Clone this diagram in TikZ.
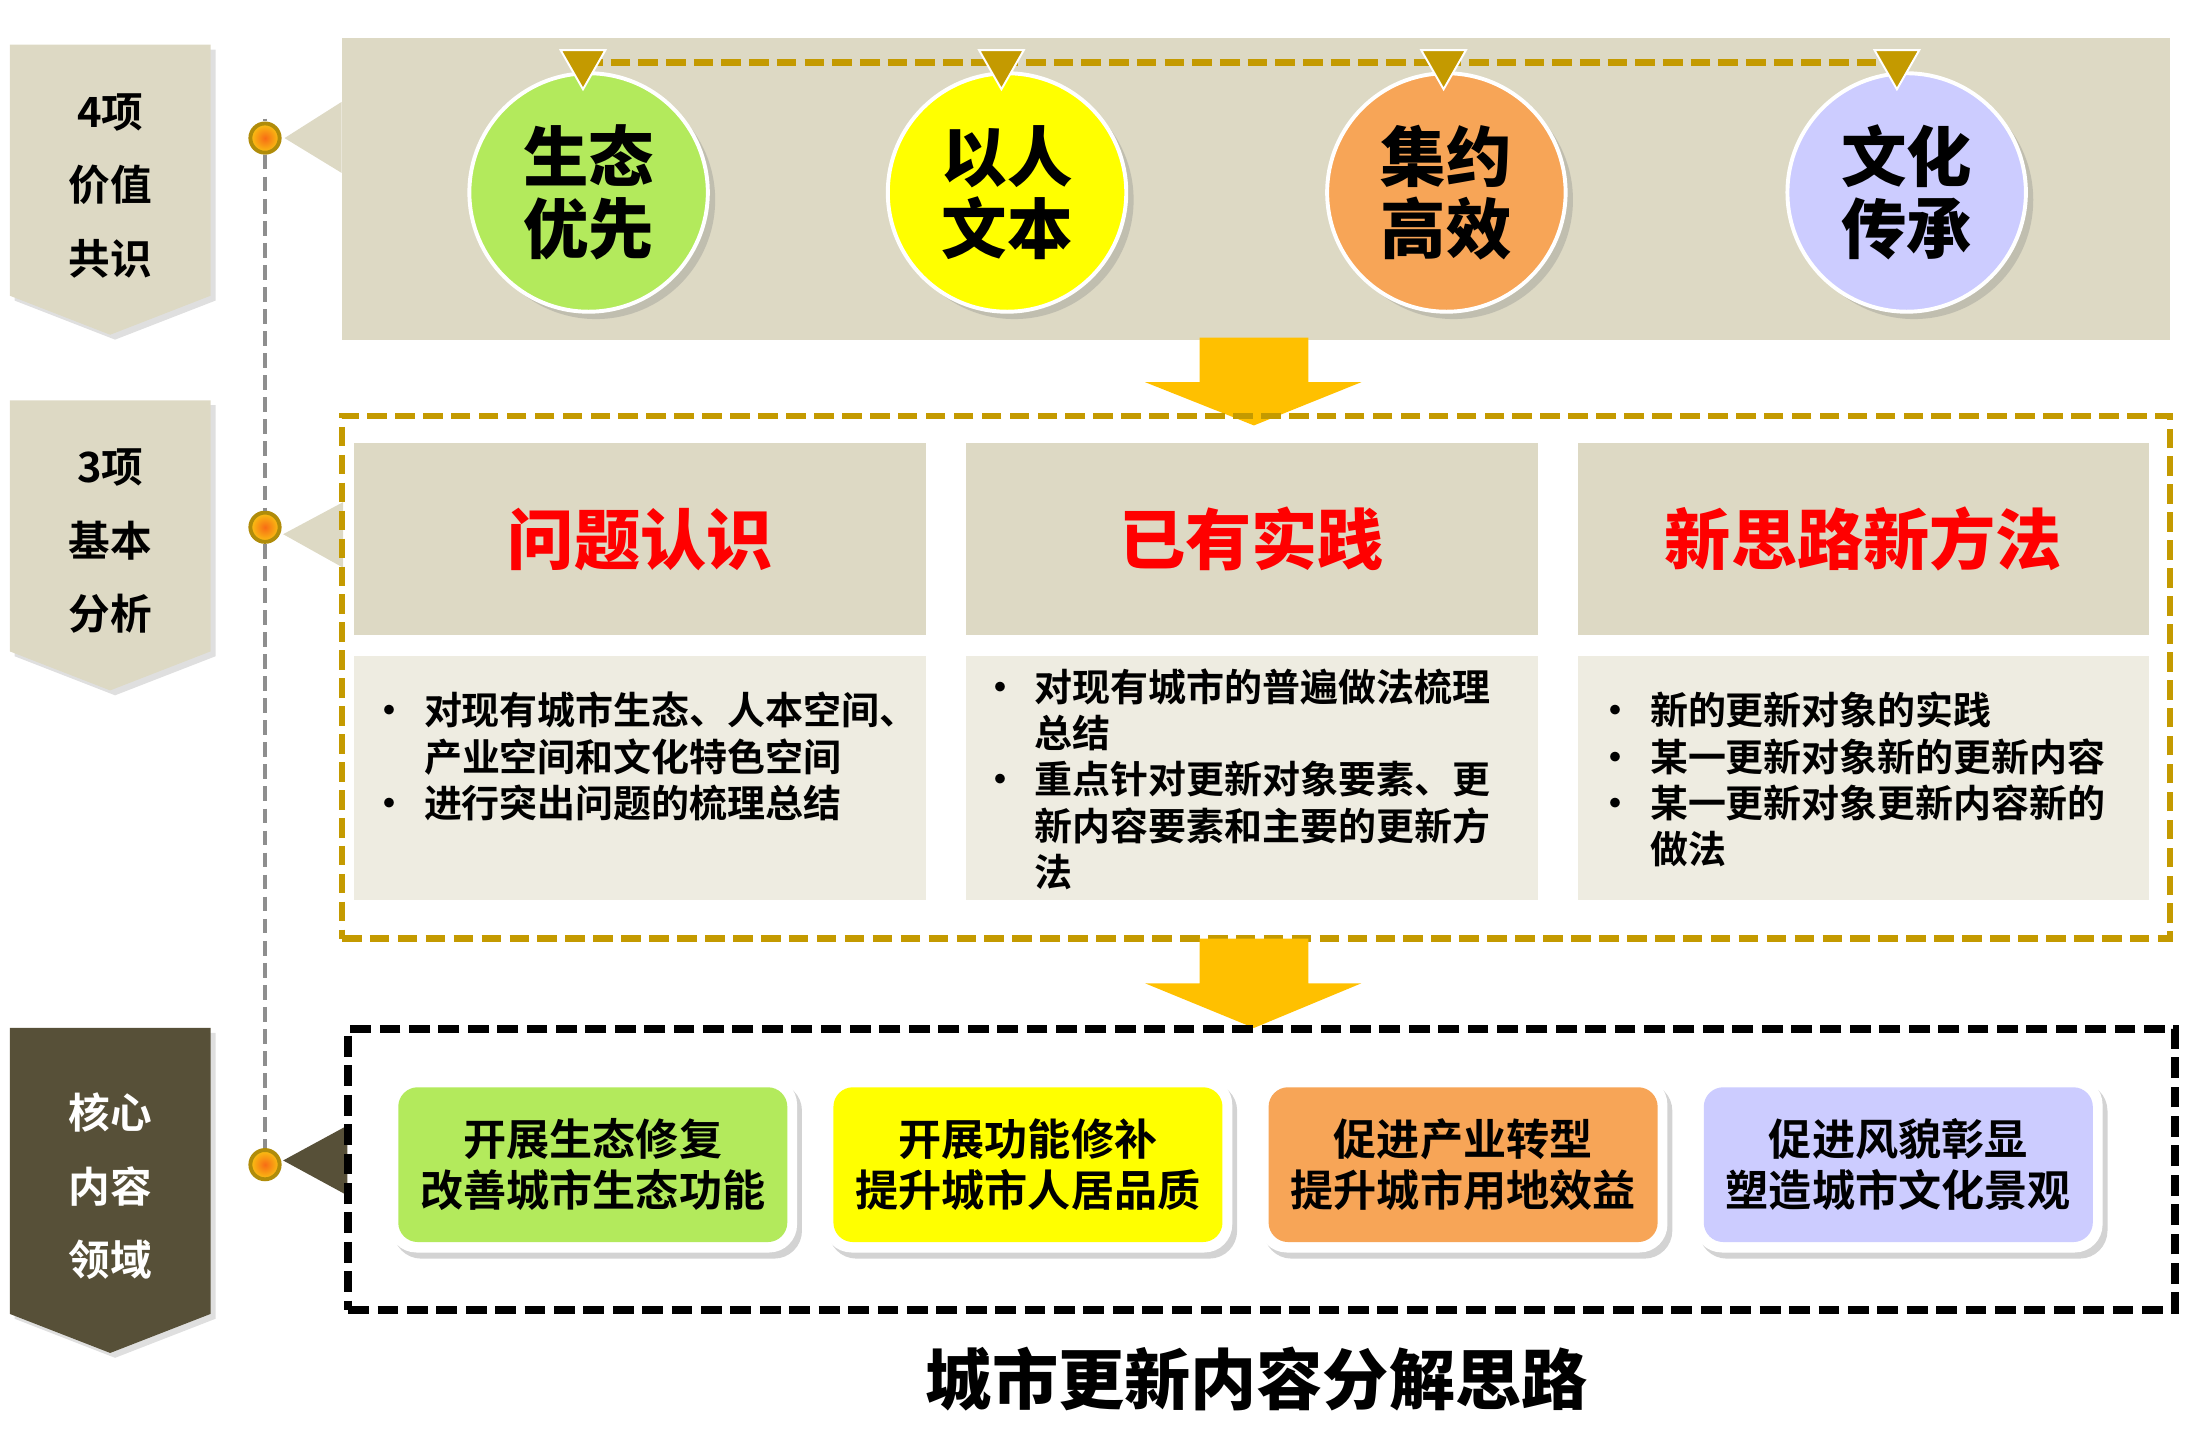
\documentclass[tikz,border=0pt]{standalone}
\usepackage{fontspec}
\setmainfont{Noto Sans CJK SC Bold}
\newfontfamily\heavyfont{Noto Sans CJK SC Black}
\usetikzlibrary{positioning,shadows}

\definecolor{bandbeige}{HTML}{DDD9C4}
\definecolor{bodybeige}{HTML}{EEECE1}
\definecolor{darkolive}{HTML}{575038}
\definecolor{goldline}{HTML}{C49A00}
\definecolor{arrowgold}{HTML}{FFC000}
\definecolor{ecogreen}{HTML}{B3EA5C}
\definecolor{humanyellow}{HTML}{FFFF00}
\definecolor{landorange}{HTML}{F7A557}
\definecolor{culturelilac}{HTML}{CCCCFF}
\definecolor{dotorange}{HTML}{F59A1E}
\definecolor{dotrim}{HTML}{B08C0A}
\definecolor{headred}{HTML}{FF0000}
\definecolor{linegray}{HTML}{8E8E8E}

\begin{document}
\begin{tikzpicture}[x=0.02cm, y=-0.02cm]
    \tikzstyle{tagtext}=[align=center, font=\fontsize{17pt}{30pt}\selectfont]
    \tikzstyle{valuecircle}=[circle, draw=white, line width=1.6pt, minimum size=3.42cm, inner sep=0pt, align=center, drop shadow={shadow xshift=3pt, shadow yshift=-3pt, opacity=0.3}, font=\heavyfont\fontsize{26.7pt}{29.6pt}\selectfont]
    \tikzstyle{headbox}=[rectangle, fill=bandbeige, minimum width=8.2cm, minimum height=2.76cm, inner sep=0pt, text=headred, font=\heavyfont\fontsize{27pt}{30pt}\selectfont]
    \tikzstyle{bodybox}=[rectangle, fill=bodybeige, minimum width=8.2cm, minimum height=3.5cm, inner sep=0pt]
    \tikzstyle{bodytext}=[anchor=west, inner sep=0pt, font=\fontsize{15.5pt}{18.6pt}\selectfont]
    \tikzstyle{taskframe}=[rectangle, rounded corners=0.4cm, fill=white, minimum width=5.86cm, minimum height=2.52cm, drop shadow={shadow xshift=2pt, shadow yshift=-2.5pt, opacity=0.35}]
    \tikzstyle{taskbox}=[rectangle, rounded corners=0.28cm, minimum width=5.58cm, minimum height=2.22cm, align=center, font=\fontsize{17.6pt}{20.6pt}\selectfont]
    \tikzstyle{ringdot}=[circle, draw=dotrim, line width=1.6pt, inner color=dotorange!70!red, outer color=dotorange!60!yellow, minimum size=0.42cm, inner sep=0pt]
    \useasboundingbox (0,0) rectangle (1568,1025);

    % left tags
    \foreach \ya/\yb/\yc/\col/\tcol/\txt/\name in {32/212/240/bandbeige/black/{4项\\价值\\共识}/t1, 287/467/495/bandbeige/black/{3项\\基本\\分析}/t2, 737/942/970/darkolive/white/{核心\\内容\\领域}/t3} {
        \fill[\col, drop shadow={shadow xshift=2pt, shadow yshift=-2pt, opacity=0.25}] (7,\ya) -- (151,\ya) -- (151,\yb) -- (79,\yc) -- (7,\yb) -- cycle;
        \node[tagtext, text=\tcol] (\name) at (79, {(\ya+\yc)/2-3}) {\txt};
    }

    % timeline
    \coordinate (vtop) at (190,85);
    \node[ringdot] (d1) at (190,99) {};
    \node[ringdot] (d2) at (190,378) {};
    \node[ringdot] (d3) at (190,835) {};
    \draw[linegray, line width=2pt, dash pattern=on 6pt off 3pt] (vtop) -- (d1) -- (d2) -- (d3);

    % top band with values
    \node[fill=bandbeige, minimum width=26.22cm, minimum height=4.34cm, inner sep=0pt] (band) at (900.5,135.5) {};
    \fill[bandbeige] (204,99) -- (245,73) -- (245,124) -- cycle;
    \foreach \tx/\name in {418/m1, 718/m2, 1035/m3, 1360/m4}
        \coordinate (\name) at (\tx,45);
    \draw[goldline, line width=3pt, dash pattern=on 8pt off 3.3pt] (m1) -- (m4);
    \foreach \cx/\col/\txt/\name in {422/ecogreen/{生态\\优先}/c1, 722/humanyellow/{以人\\文本}/c2, 1037/landorange/{集约\\高效}/c3, 1367/culturelilac/{文化\\传承}/c4}
        \node[valuecircle, fill=\col] (\name) at (\cx,138) {\txt};
    \foreach \name in {m1,m2,m3,m4}
        \filldraw[fill=goldline, draw=white, line width=0.8pt] (\name) ++(-16,-9) -- ++(32,0) -- ++(-16,28) -- cycle;

    % analysis frame
    \fill[arrowgold] (860,242) -- (938,242) -- (938,274) -- (976,274) -- (899,305) -- (821,274) -- (860,274) -- cycle;
    \fill[bandbeige] (203,383) -- (246,360) -- (246,407) -- cycle;
    \node[draw=goldline, line width=2.6pt, dash pattern=on 8pt off 3.4pt, minimum width=26.22cm, minimum height=7.5cm, inner sep=0pt] (midframe) at (900.5,485.5) {};
    \foreach \i/\txt in {0/问题认识, 1/已有实践, 2/新思路新方法} {
        \node[headbox] (h\i) at ({459+438.5*\i},386.5) {\txt};
        \node[bodybox] (b\i) at ({459+438.5*\i},557.5) {};
    }
    \node[bodytext] (p0) at (265,546) {\begin{tabular}{@{}p{22pt}@{}l@{}}
        • & 对现有城市生态、人本空间、\\
          & 产业空间和文化特色空间\\
        • & 进行突出问题的梳理总结
    \end{tabular}};
    \node[bodytext] (p1) at (703,562.5) {\begin{tabular}{@{}p{22pt}@{}l@{}}
        • & 对现有城市的普遍做法梳理\\
          & 总结\\
        • & 重点针对更新对象要素、更\\
          & 新内容要素和主要的更新方\\
          & 法
    \end{tabular}};
    \node[bodytext] (p2) at (1144,562.5) {\begin{tabular}{@{}p{22pt}@{}l@{}}
        • & 新的更新对象的实践\\
        • & 某一更新对象新的更新内容\\
        • & 某一更新对象更新内容新的\\
          & 做法
    \end{tabular}};

    % core fields
    \fill[arrowgold] (860,673) -- (938,673) -- (938,705) -- (976,705) -- (899,737) -- (821,705) -- (860,705) -- cycle;
    \fill[darkolive] (203,832) -- (249,807) -- (249,857) -- cycle;
    \node[draw=black, line width=3.2pt, dash pattern=on 8.5pt off 3.5pt, minimum width=26.2cm, minimum height=4.02cm, inner sep=0pt] (coreframe) at (904.5,838.5) {};
    \foreach \i/\col/\txt in {0/ecogreen/{开展生态修复\\改善城市生态功能}, 1/humanyellow/{开展功能修补\\提升城市人居品质}, 2/landorange/{促进产业转型\\提升城市用地效益}, 3/culturelilac/{促进风貌彰显\\塑造城市文化景观}} {
        \node[taskframe] (f\i) at ({425+312*\i},835) {};
        \node[taskbox, fill=\col] (k\i) at (f\i) {\txt};
    }

    % title
    \node[font=\heavyfont\fontsize{27pt}{30pt}\selectfont] (title) at (901,989) {城市更新内容分解思路};
\end{tikzpicture}
\end{document}
